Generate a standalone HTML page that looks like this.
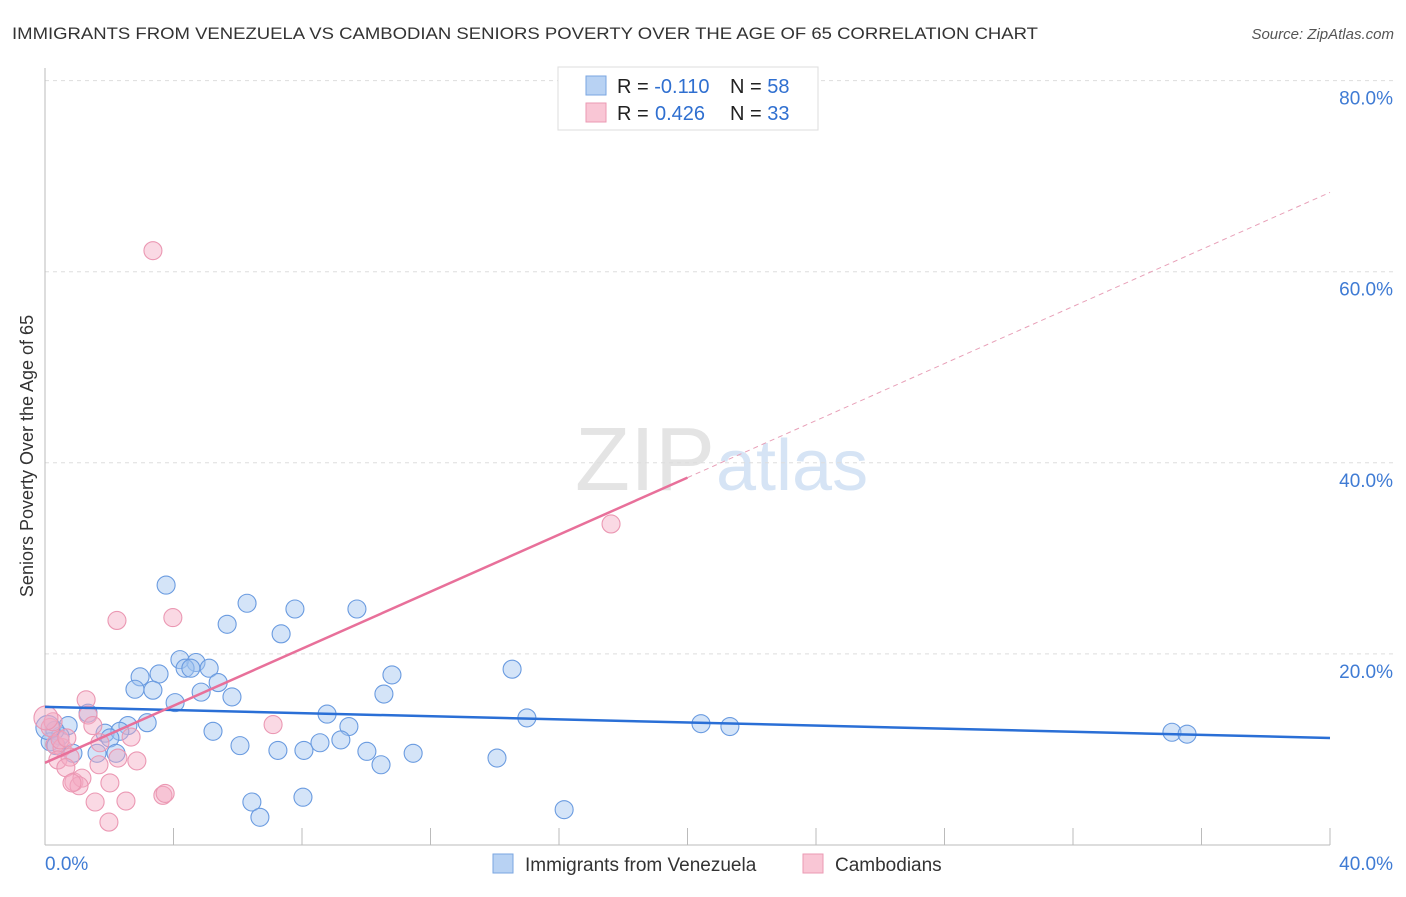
<!DOCTYPE html>
<html><head><meta charset="utf-8"><style>
body{margin:0;background:#fff;font-family:"Liberation Sans",sans-serif}
svg text{font-family:"Liberation Sans",sans-serif}
</style></head><body>
<svg id="chart" width="1406" height="892">
<text x="12" y="39" font-size="17" fill="#333" textLength="1026" lengthAdjust="spacingAndGlyphs">IMMIGRANTS FROM VENEZUELA VS CAMBODIAN SENIORS POVERTY OVER THE AGE OF 65 CORRELATION CHART</text>
<text x="1394" y="39" font-size="15" fill="#555" font-style="italic" text-anchor="end">Source: ZipAtlas.com</text>
<text x="715" y="490" font-size="90" fill="#e4e4e4" font-family="Liberation Serif" text-anchor="end">ZIP</text>
<text x="716" y="490" font-size="72" fill="#d6e4f5">atlas</text>
<g id="grid"></g><g id="axes"></g><g id="pts"></g><g id="lines"></g>
<text transform="translate(33,456) rotate(-90)" font-size="18" fill="#333" text-anchor="middle">Seniors Poverty Over the Age of 65</text>
<g>
<rect x="558" y="67" width="260" height="63" fill="#fff" stroke="#ddd"/>
<rect x="586" y="76" width="20" height="19" fill="#b8d2f3" stroke="#7aa6e0"/>
<rect x="586" y="103" width="20" height="19" fill="#f9c6d5" stroke="#eb9ab3"/>
<text x="617" y="93" font-size="20" fill="#222">R = <tspan fill="#2f6fd0">-0.110</tspan><tspan x="730">N = </tspan><tspan fill="#2f6fd0">58</tspan></text>
<text x="617" y="120" font-size="20" fill="#222">R = <tspan fill="#2f6fd0" x="655">0.426</tspan><tspan x="730">N = </tspan><tspan fill="#2f6fd0">33</tspan></text>
</g>
<g>
<rect x="493" y="854" width="20" height="19" fill="#b8d2f3" stroke="#7aa6e0"/>
<text x="525" y="871" font-size="19" fill="#333">Immigrants from Venezuela</text>
<rect x="803" y="854" width="20" height="19" fill="#f9c6d5" stroke="#eb9ab3"/>
<text x="835" y="871" font-size="19" fill="#333">Cambodians</text>
</g>
</svg>
<script>
const blueX=[3.77,6.29,7.78,9.71,5.67,7.35,4.20,4.70,5.11,4.36,4.54,2.96,3.55,10.80,14.54,2.80,3.36,5.39,4.86,5.82,10.55,4.05,1.34,8.78,15.0,3.18,2.58,0.72,9.46,5.23,20.42,21.32,35.08,35.55,0.47,1.87,2.33,2.02,0.31,0.16,1.62,2.21,0.87,6.07,7.25,8.06,8.56,9.21,10.02,11.46,10.46,14.07,6.44,8.03,6.69,16.16,0.09,0.34];
const blueY=[27.2,25.3,24.7,24.7,23.1,22.1,19.4,19.1,18.5,18.5,18.5,17.6,17.9,17.8,18.4,16.3,16.2,17.0,16.0,15.5,15.8,14.9,13.8,13.7,13.3,12.8,12.5,12.5,12.4,11.9,12.7,12.4,11.8,11.6,11.4,11.7,11.9,11.2,12.0,10.8,9.6,9.6,9.6,10.4,9.9,9.9,10.7,11.0,9.8,9.6,8.4,9.1,4.5,5.0,2.9,3.7,12.3,10.4];
const pinkX=[3.36,17.62,2.24,3.98,1.28,1.34,1.49,2.68,7.10,0.16,0.31,0.53,0.40,0.78,1.71,1.68,2.86,2.27,0.65,0.90,1.15,1.06,0.84,2.02,1.56,2.52,3.67,3.74,1.99,0.25,0.47,0.68,0.03];
const pinkY=[62.2,33.6,23.5,23.8,15.2,13.6,12.5,11.3,12.6,12.3,10.5,10.2,8.9,9.2,10.7,8.4,8.8,9.1,8.1,6.6,7.0,6.2,6.5,6.5,4.5,4.6,5.2,5.4,2.4,12.9,11.0,11.2,13.3];
const yTicks=[20,40,60,80];
const blueFit=[14.45,11.2];
const pinkFit=[8.6,68.3];
const X=v=>45+v/40*1285, Y=v=>845-v*9.555;
const NS="http://www.w3.org/2000/svg";
function mk(p,t,a){const e=document.createElementNS(NS,t);for(const k in a)e.setAttribute(k,a[k]);document.getElementById(p).appendChild(e);return e;}
yTicks.forEach(t=>{
 const l=mk('grid','line',{x1:45,x2:1394,y1:Y(t),y2:Y(t),stroke:'#ddd','stroke-dasharray':'4,4'});
 
 
 const tx=mk('grid','text',{x:1393,y:Y(t)+24,'font-size':19,fill:'#3f7bd4','text-anchor':'end'});tx.textContent=t.toFixed(1)+'%';
 
 
});
mk('axes','line',{x1:45,x2:45,y1:68,y2:845,stroke:'#bbb'});
mk('axes','line',{x1:45,x2:1330,y1:845,y2:845,stroke:'#bbb'});
for(let i=1;i<=10;i++){const t=mk('axes','line',{x1:X(i*4),x2:X(i*4),y1:828,y2:845,stroke:'#bbb'});
 
 }
const x0=mk('axes','text',{x:45,y:870,'font-size':19,fill:'#3f7bd4'});x0.textContent='0.0%';


const x1=mk('axes','text',{x:1393,y:870,'font-size':19,fill:'#3f7bd4','text-anchor':'end'});x1.textContent='40.0%';


function pts(xs,ys,fill,stroke,name){xs.forEach((x,i)=>{
 const r=(x<0.1)?12:9;
 const c=mk('pts','circle',{cx:X(x),cy:Y(ys[i]),r:r,fill:fill,stroke:stroke,'stroke-width':1.1});
 
 });}
pts(blueX,blueY,'rgba(160,196,240,0.45)','#6a9be0','venezuela-point');
pts(pinkX,pinkY,'rgba(245,170,195,0.45)','#eb98b3','cambodian-point');
const bl=mk('lines','line',{x1:X(0),y1:Y(blueFit[0]),x2:X(40),y2:Y(blueFit[1]),stroke:'#2a6fd6','stroke-width':2.5});


const pm=(pinkFit[0]+pinkFit[1])/2;
const pl=mk('lines','line',{x1:X(0),y1:Y(pinkFit[0]),x2:X(20),y2:Y(pm),stroke:'#e8709a','stroke-width':2.5});


const pd=mk('lines','line',{x1:X(20),y1:Y(pm),x2:X(40),y2:Y(pinkFit[1]),stroke:'#e8a0b8','stroke-width':1,'stroke-dasharray':'5,4'});


</script>
</body></html>
